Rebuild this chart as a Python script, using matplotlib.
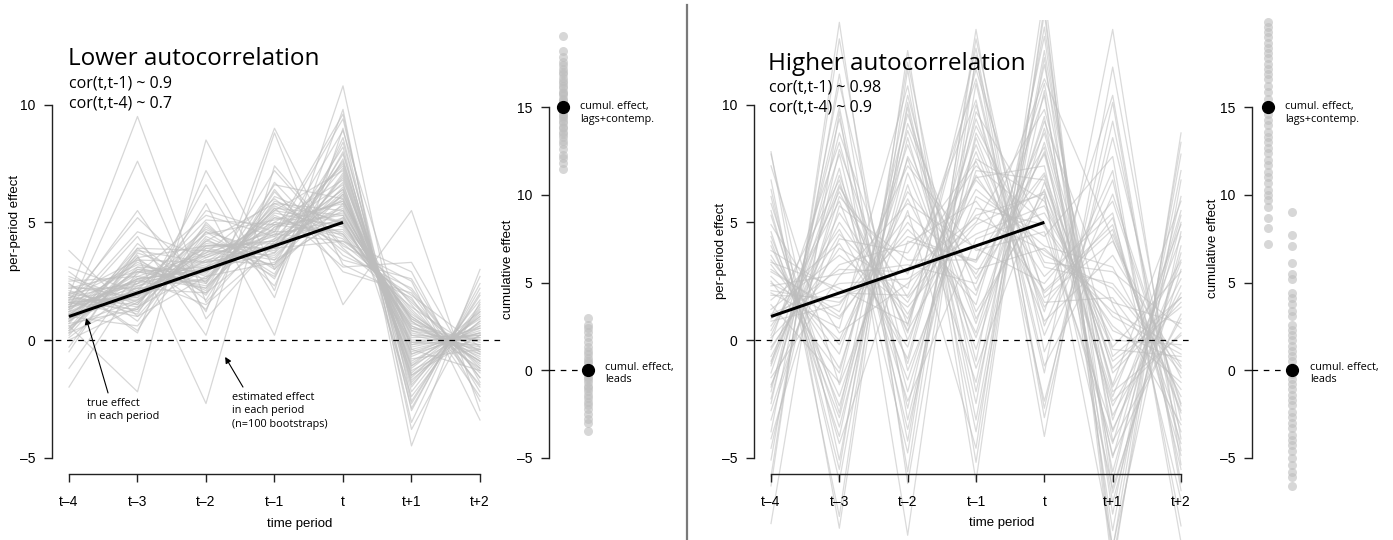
import matplotlib
matplotlib.use("Agg")
import matplotlib.pyplot as plt

# ---------------- data ----------------
periods = [-4, -3, -2, -1, 0, 1, 2]
period_labels = ["t\u20134", "t\u20133", "t\u20132", "t\u20131", "t", "t+1", "t+2"]
true_x = [-4, -3, -2, -1, 0]
true_effect = [1, 2, 3, 4, 5]
ytick_main = [-5, 0, 5, 10]
ytick_cum = [-5, 0, 5, 10, 15]

low_boot = [
    [1.2, 2.1, 3.4, 4.0, 5.5, 0.4, -0.2],
    [0.8, 2.6, 2.9, 4.5, 5.1, 0.9, -0.6],
    [1.6, 1.8, 3.8, 3.6, 6.2, -0.3, 0.3],
    [2.1, 1.2, 4.4, 3.1, 7.0, -1.2, 1.0],
    [0.4, 3.1, 2.2, 5.2, 4.3, 1.6, -1.1],
    [1.9, 9.5, 1.6, 4.8, 5.9, 0.2, 0.1],
    [1.3, 7.6, 0.9, 4.2, 6.4, -0.7, 0.5],
    [3.8, 1.0, 2.7, 3.3, 5.2, 0.8, -0.9],
    [-2.0, 2.6, 3.6, 5.0, 4.6, 1.2, -1.3],
    [0.6, -2.2, 8.5, 3.0, 5.8, -0.1, 0.2],
    [1.5, 5.5, 1.2, 9.0, 3.2, 1.8, -2.4],
    [2.4, 0.3, 7.2, 2.1, 10.8, -2.6, 1.9],
    [1.0, 3.6, -2.7, 7.4, 4.0, 2.5, -3.4],
    [-1.2, 2.9, 2.5, 5.6, 3.1, 3.3, -1.8],
    [1.8, 1.5, 4.9, 2.6, 8.4, -1.9, 1.2],
    [0.9, 2.4, 3.1, 4.3, 5.6, 0.0, 0.0],
    [1.4, 2.0, 3.5, 4.7, 6.6, -0.8, -0.4],
    [2.7, 1.6, 4.1, 3.8, 7.6, -1.5, 0.8],
    [0.2, 3.4, 2.0, 6.1, 4.9, 0.6, -0.7],
    [1.1, 2.8, 5.3, 4.4, 9.4, -3.0, 2.4],
    [1.7, 5.2, 2.4, 7.2, 3.9, 1.4, -0.5],
    [0.7, 1.3, 6.6, 1.8, 9.8, -4.5, 3.0],
    [2.2, 2.2, 2.6, 5.4, 4.8, 1.0, -1.0],
    [1.0, 0.6, 3.9, 3.4, 6.9, -1.1, 0.6],
    [-0.5, 3.9, 1.7, 6.4, 2.9, 2.0, -2.0],
    [1.4, 2.5, 3.2, 4.9, 5.3, 0.3, -0.3],
    [2.9, 0.8, 4.6, 2.8, 8.0, -2.2, 1.5],
    [0.5, 3.0, 2.8, 5.7, 4.4, 1.1, -0.8],
    [1.6, 1.9, 4.0, 4.1, 6.0, -0.5, 0.4],
    [1.2, 4.4, 0.2, 8.8, 1.5, 5.5, -3.0],
    [0.1, 2.3, 3.3, 3.9, 7.3, -1.6, 1.1],
    [1.9, 1.1, 5.8, 0.2, 9.0, -3.5, 2.7],
    [1.3, 3.3, 2.1, 5.9, 5.0, 0.5, -0.4],
    [0.8, 2.7, 3.7, 4.6, 4.7, 1.3, -1.4],
    [2.0, 1.4, 3.0, 3.7, 6.3, -0.9, 0.7],
    [1.5, 2.2, 4.5, 5.1, 5.8, 0.1, 0.2],
    [0.9, 3.5, 1.3, 6.7, 3.6, 2.2, -1.6],
    [1.7, 1.7, 3.4, 3.2, 7.9, -1.8, 1.3],
    [1.1, 2.9, 2.3, 4.8, 5.4, 0.7, -0.1],
    [2.4, 0.4, 5.0, 2.3, 8.6, -2.7, 2.0],
    [-0.3, 3.7, 2.7, 5.3, 4.1, 1.7, -1.2],
    [1.4, 2.4, 3.9, 4.2, 5.7, -0.2, 0.1],
    [0.6, 1.7, 4.2, 3.5, 6.5, -1.0, 0.9],
    [1.8, 3.2, 2.6, 5.5, 5.0, 0.4, -0.6],
    [1.0, 2.0, 3.6, 4.4, 6.1, -0.4, 0.3],
    [2.6, 1.5, 4.8, 3.0, 7.1, -1.4, 1.0],
    [0.3, 4.1, 1.9, 6.3, 3.4, 2.6, -2.2],
    [1.3, 2.6, 3.0, 4.1, 5.2, 0.6, -0.5],
    [1.6, 1.0, 4.3, 2.7, 7.7, -2.0, 1.7],
    [0.8, 3.0, 2.4, 5.8, 4.5, 0.9, -0.9],
    [1.7, 2.3, 2.9, 5.0, 6.8, -0.6, 0.6],
    [0.5, 3.8, 3.3, 3.9, 4.2, 2.9, -2.6],
    [2.3, 1.8, 5.5, 4.6, 7.4, -1.3, 0.2],
    [1.2, 2.6, 1.5, 4.0, 8.9, -0.4, -1.3],
    [3.1, 2.0, 3.7, 6.0, 3.8, 1.9, -0.3],
    [0.0, 1.4, 4.0, 3.9, 6.7, -2.4, 1.4],
    [1.5, 3.1, 2.9, 4.9, 5.9, 0.8, -1.2],
    [2.0, 2.4, 4.7, 3.4, 5.1, -0.2, 0.5],
    [0.9, 1.9, 3.1, 5.5, 7.2, -1.5, 0.2],
    [1.4, 4.6, 3.5, 4.5, 4.2, 2.1, -1.6],
    [2.5, 2.7, 2.2, 6.6, 6.0, -0.1, -0.2],
    [0.3, 1.6, 4.6, 3.7, 8.2, -2.9, 2.2],
    [1.9, 3.4, 3.3, 5.2, 4.9, 1.5, -1.9],
    [1.0, 2.2, 2.0, 4.3, 7.5, -1.7, 0.8],
    [1.6, 1.3, 4.2, 5.8, 5.5, 0.2, -0.4],
    [0.7, 3.9, 3.8, 3.2, 6.2, -0.6, 0.3],
    [2.2, 2.9, 3.1, 4.6, 9.6, -3.8, 1.6],
    [1.1, 2.1, 5.1, 4.9, 4.5, 1.0, -0.9],
    [1.8, 2.5, 2.5, 5.6, 5.3, 0.5, 0.0],
    [0.4, 3.5, 4.0, 4.2, 6.4, -1.1, 1.2],
]

high_boot = [
    [-2.5, 8.8, 0.6, 11.5, 1.8, 4.2, -1.6],
    [5.8, -3.1, 10.4, -0.9, 12.9, -6.5, 3.7],
    [0.4, 5.9, -1.7, 7.2, 6.8, -2.4, 4.9],
    [3.2, -0.6, 8.3, 0.7, 9.3, 1.5, -3.6],
    [-5.8, 12.8, -3.4, 8.6, 1.2, 10.4, -6.1],
    [7.4, -1.9, 5.5, -4.6, 14.8, -9.4, 6.8],
    [1.7, 4.1, -0.3, 9.1, 3.3, 2.9, 0.5],
    [2.9, 1.2, 7.4, 3.8, 4.6, -3.8, 2.3],
    [-1.4, 7.3, -4.8, 12.8, -0.5, 6.2, -2.7],
    [4.6, -4.1, 9.2, 2.1, 8.0, -1.9, 5.9],
    [0.1, 3.2, 4.1, 5.9, 2.1, 4.9, -4.4],
    [3.8, 2.0, 1.9, 6.9, 7.4, -4.9, 1.1],
    [-3.9, 10.9, -1.3, 6.1, 4.4, 7.8, -8.6],
    [6.1, -5.5, 11.8, -2.2, 10.6, -8.1, 7.9],
    [2.3, 2.8, 3.2, 2.4, 8.8, -2.2, 0.2],
    [-0.7, 5.0, 0.9, 8.0, 0.8, 3.6, -1.1],
    [-3.0, 6.1, 2.8, 10.2, -2.6, 8.6, -3.4],
    [4.0, -2.4, 6.6, -1.8, 11.7, -3.4, 4.4],
    [1.0, 6.8, -2.6, 4.3, 5.4, 0.4, -0.9],
    [2.5, -1.4, 8.9, 1.2, 6.1, -6.3, 3.0],
    [-1.9, 4.3, 3.7, 7.6, 1.6, 1.8, -2.1],
    [4.9, 0.3, 2.4, 5.0, 9.8, -0.7, 1.8],
    [-6.2, 13.5, -6.1, 10.9, -1.4, 13.2, -5.3],
    [6.8, -7.5, 12.3, -5.2, 13.9, -8.9, 8.4],
    [0.8, 1.5, 5.3, 3.0, 3.9, 1.2, -0.4],
    [-2.2, 9.4, -2.9, 9.7, 4.8, 0.6, -1.8],
    [3.4, -0.2, 6.0, 0.3, 9.5, -5.6, 5.0],
    [-0.3, 3.9, 2.2, 11.1, -1.1, 4.5, -3.0],
    [5.3, -3.7, 7.8, 2.6, 7.0, -2.8, 2.6],
    [-4.6, 8.1, 0.0, 7.0, 2.7, 5.4, -6.8],
    [2.0, 0.5, 10.8, -3.4, 12.3, -4.3, 0.9],
    [1.3, 3.6, 1.4, 4.9, 6.3, -0.9, 1.4],
    [-1.0, 7.9, -3.8, 8.8, 3.1, 2.4, -1.2],
    [3.0, 1.0, 4.7, 1.9, 10.4, -6.9, 4.0],
    [-5.1, 11.3, -5.6, 13.2, -3.3, 9.3, -4.7],
    [7.9, -5.1, 9.9, -3.9, 12.0, -7.4, 7.2],
    [-0.9, 5.4, 1.1, 6.4, 4.0, 3.1, -2.4],
    [4.4, -2.8, 7.1, 0.1, 8.4, -2.0, 3.4],
    [0.6, 4.7, -0.8, 10.0, 0.2, 6.8, -5.5],
    [2.7, 0.0, 6.3, 2.8, 7.9, -3.2, 2.0],
    [-3.4, 6.5, 1.8, 5.3, 6.2, -8.8, 4.6],
    [5.5, -4.4, 4.2, 3.4, 11.1, 4.3, -3.1],
    [-1.6, 2.7, 5.8, 3.9, 2.4, 5.9, -2.8],
    [1.9, 1.8, 3.0, 7.4, 5.0, -4.4, 5.5],
    [0.2, 6.3, 0.4, 5.6, 4.9, 1.0, -0.6],
    [3.6, -1.2, 7.7, -0.4, 9.0, -1.4, 1.6],
    [-2.7, 9.9, -4.3, 11.9, 0.6, 7.2, -7.9],
    [6.4, -6.0, 10.1, -2.7, 13.3, -6.0, 6.1],
    [1.1, 2.4, 2.6, 4.5, 5.7, 0.0, -0.2],
    [-0.4, 4.5, 1.6, 6.8, 3.6, 2.2, -1.4],
    [2.4, 0.9, 5.0, 1.5, 10.9, -3.9, 3.3],
    [-2.0, 7.0, -1.0, 9.4, 2.0, 4.7, -3.9],
    [4.2, -3.3, 8.6, -1.2, 6.7, -0.3, 2.9],
    [0.9, 3.0, 2.9, 5.2, 3.8, 1.6, 0.7],
    [-4.2, 5.7, 3.4, 3.4, 7.1, -1.2, 1.8],
    [3.3, 2.2, 0.7, 8.3, 1.4, 5.2, -4.9],
    [1.5, -1.8, 9.6, 0.9, 6.4, -2.6, 0.3],
    [-0.1, 8.4, -2.2, 7.7, 5.9, -0.4, -0.7],
    [2.1, 1.6, 4.4, 3.3, 8.2, -5.0, 5.3],
    [-1.1, 6.6, 0.3, 12.4, -2.9, 10.1, -6.4],
    [-7.8, 9.7, -8.3, 12.1, -4.1, 11.6, -4.2],
    [8.0, -8.0, 11.5, -6.0, 14.2, -9.8, 8.8],
]

low_cum_lags = [19.1, 18.2, 17.9, 17.6, 17.4, 17.2, 17.0, 16.9, 16.7, 16.5, 16.4,
                16.2, 16.1, 15.9, 15.8, 15.7, 15.5, 15.4, 15.3, 15.2, 15.0, 14.9,
                14.8, 14.6, 14.5, 14.4, 14.2, 14.1, 13.9, 13.8, 13.6, 13.5, 13.3,
                13.1, 12.9, 12.6, 12.3, 12.1, 11.8, 11.5]
low_cum_leads = [3.0, 2.6, 2.4, 2.2, 1.9, 1.6, 1.3, 1.1, 0.9, 0.7, 0.5, 0.4, 0.2,
                 0.1, -0.1, -0.2, -0.4, -0.5, -0.7, -0.9, -1.0, -1.2, -1.4, -1.6,
                 -1.8, -2.0, -2.2, -2.5, -2.8, -3.0, -3.5]
high_cum_lags = [19.9, 19.6, 19.3, 19.0, 18.7, 18.4, 18.1, 17.8, 17.5, 17.2, 16.9,
                 16.6, 16.2, 15.9, 15.5, 14.6, 14.3, 14.0, 13.6, 13.3, 13.0, 12.7,
                 12.4, 12.0, 11.7, 11.3, 11.0, 10.7, 10.3, 10.0, 9.7, 9.3, 8.7,
                 8.1, 7.2]
high_cum_leads = [9.0, 7.7, 7.1, 6.1, 5.5, 5.2, 4.4, 4.1, 3.8, 3.4, 3.1, 2.6, 2.3,
                  2.0, 1.7, 1.4, 1.1, 0.8, 0.5, 0.2, -0.2, -0.5, -0.8, -1.1, -1.4,
                  -1.7, -2.0, -2.4, -2.7, -3.0, -3.3, -3.7, -4.0, -4.3, -4.6, -5.0,
                  -5.4, -5.8, -6.1, -6.6]
true_cum = [15, 0]

# ---------------- styling ----------------
W, H = 1393, 540
TICKFONT = "Liberation Sans"
TEXTFONT = "Open Sans"
GRAY = "#bdbdbd"
AX_COL = "#222222"

fig = plt.figure(figsize=(W / 100, H / 100), dpi=100)


def fx(x):
    return x / W


def fy(y):
    return 1 - y / H


def main_axes(left_px, right_px, top_px, ylim, xlim, boot, zero_from, zero_to,
              alpha):
    ax = fig.add_axes([fx(left_px), 0, (right_px - left_px) / W, (H - top_px) / H])
    ax.set_xlim(*xlim)
    ax.set_ylim(*ylim)
    ax.patch.set_alpha(0)
    for row in boot:
        ax.plot(periods, row, color=GRAY, alpha=alpha, lw=0.9, zorder=1)
    ax.plot([zero_from, zero_to], [0, 0], color="black", lw=0.9,
            ls=(0, (4.5, 4.5)), zorder=3, clip_on=False)
    ax.plot(true_x, true_effect, color="black", lw=2.2, zorder=4,
            solid_capstyle="butt")
    for s in ("top", "right"):
        ax.spines[s].set_visible(False)
    ax.spines["left"].set_bounds(-5, 10)
    ax.spines["bottom"].set_bounds(-4, 2)
    ax.spines["bottom"].set_position(("data", (340 - 474) / 23.53))
    for s in ("left", "bottom"):
        ax.spines[s].set_color(AX_COL)
        ax.spines[s].set_linewidth(1.0)
    ax.set_yticks(ytick_main)
    ax.set_yticklabels([str(v).replace("-", "\u2013") for v in ytick_main],
                       fontfamily=TICKFONT, fontsize=10)
    ax.set_xticks(periods)
    ax.set_xticklabels(period_labels, fontfamily=TICKFONT, fontsize=10)
    ax.tick_params(axis="y", direction="out", length=6, width=1.0, pad=6,
                   color=AX_COL)
    ax.tick_params(axis="x", direction="out", length=6, width=1.0, pad=9,
                   color=AX_COL)
    return ax


def strip_axes(left_px, right_px, col_px_per_unit, lags, leads):
    ax = fig.add_axes([fx(left_px), 0, (right_px - left_px) / W, 1])
    x0 = 1 - (col_px_per_unit[0]) / col_px_per_unit[1]
    ax.set_xlim(x0, x0 + (right_px - left_px) / col_px_per_unit[1])
    ax.set_ylim((370 - 540) / 17.5, 370 / 17.5)
    ax.patch.set_alpha(0)
    ax.plot([1] * len(lags), lags, "o", color=GRAY, alpha=0.6, ms=6.5,
            mec="none", zorder=2)
    ax.plot([2] * len(leads), leads, "o", color=GRAY, alpha=0.6, ms=6.5,
            mec="none", zorder=2)
    ax.plot([x0, 2], [0, 0], color="black", lw=0.9, ls=(0, (4.5, 4.5)),
            zorder=3)
    ax.plot([1, 2], true_cum, "o", color="black", ms=8.5, zorder=4, ls="none")
    for s in ("top", "right", "bottom"):
        ax.spines[s].set_visible(False)
    ax.spines["left"].set_bounds(-5, 15)
    ax.spines["left"].set_color(AX_COL)
    ax.spines["left"].set_linewidth(1.0)
    ax.set_xticks([])
    ax.set_yticks(ytick_cum)
    ax.set_yticklabels([str(v).replace("-", "\u2013") for v in ytick_cum],
                       fontfamily=TICKFONT, fontsize=10)
    ax.tick_params(axis="y", direction="out", length=6, width=1.0, pad=6,
                   color=AX_COL)
    return ax


# ---- left main panel ----
axL = main_axes(52, 505, 0, ((340 - 540) / 23.53, 340 / 23.53),
                (-4.248, 2.365), low_boot, -4.365, 2.29, 0.6)
axL.annotate("", xy=(-3.75, 0.93), xytext=(-3.43, -2.25),
             arrowprops=dict(arrowstyle="-|>", lw=0.8, color="black",
                             mutation_scale=9, shrinkA=0, shrinkB=0))
axL.annotate("", xy=(-1.72, -0.72), xytext=(-1.46, -2.0),
             arrowprops=dict(arrowstyle="-|>", lw=0.8, color="black",
                             mutation_scale=9, shrinkA=0, shrinkB=0))
axL.text(-3.74, -2.45, "true effect\nin each period", fontfamily=TEXTFONT,
         fontsize=7.8, va="top", ha="left", linespacing=1.3)
axL.text(-1.62, -2.2, "estimated effect\nin each period\n(n=100 bootstraps)",
         fontfamily=TEXTFONT, fontsize=7.8, va="top", ha="left", linespacing=1.3)

# ---- left strip ----
axLS = strip_axes(549, 680, (14, 25), low_cum_lags, low_cum_leads)
axLS.text(1.68, 14.7, "cumul. effect,\nlags+contemp.", fontfamily=TEXTFONT,
          fontsize=7.8, va="center", ha="left", linespacing=1.2)
axLS.text(2.68, -0.2, "cumul. effect,\nleads", fontfamily=TEXTFONT,
          fontsize=7.8, va="center", ha="left", linespacing=1.2)

# ---- right main panel ----
axR = main_axes(754, 1205, 20, ((340 - 540) / 23.53, (340 - 20) / 23.53),
                (-4.249, 2.351), high_boot, -4.234, 2.16, 0.55)

# ---- right strip ----
axRS = strip_axes(1252, 1393, (16, 24), high_cum_lags, high_cum_leads)
axRS.text(1.71, 14.7, "cumul. effect,\nlags+contemp.", fontfamily=TEXTFONT,
          fontsize=7.8, va="center", ha="left", linespacing=1.2)
axRS.text(2.75, -0.2, "cumul. effect,\nleads", fontfamily=TEXTFONT,
          fontsize=7.8, va="center", ha="left", linespacing=1.2)

# ---- titles and axis labels ----
fig.text(fx(68), fy(65), "Lower autocorrelation", fontfamily=TEXTFONT,
         fontsize=17.5, ha="left", va="baseline")
fig.text(fx(69), fy(83), "cor(t,t-1) ~ 0.9", fontfamily=TEXTFONT,
         fontsize=11.5, ha="left", va="center")
fig.text(fx(69), fy(103), "cor(t,t-4) ~ 0.7", fontfamily=TEXTFONT,
         fontsize=11.5, ha="left", va="center")
fig.text(fx(768), fy(70), "Higher autocorrelation", fontfamily=TEXTFONT,
         fontsize=17.5, ha="left", va="baseline")
fig.text(fx(769), fy(88), "cor(t,t-1) ~ 0.98", fontfamily=TEXTFONT,
         fontsize=11.5, ha="left", va="center")
fig.text(fx(769), fy(108), "cor(t,t-4) ~ 0.9", fontfamily=TEXTFONT,
         fontsize=11.5, ha="left", va="center")

fig.text(fx(15), fy(223), "per-period effect", fontfamily=TICKFONT, fontsize=9.5,
         rotation=90, ha="center", va="center")
fig.text(fx(721), fy(251), "per-period effect", fontfamily=TICKFONT, fontsize=9.5,
         rotation=90, ha="center", va="center")
fig.text(fx(300), fy(524), "time period", fontfamily=TICKFONT, fontsize=9.5,
         ha="center", va="center")
fig.text(fx(1002), fy(523), "time period", fontfamily=TICKFONT, fontsize=9.5,
         ha="center", va="center")
fig.text(fx(508), fy(269), "cumulative effect", fontfamily=TICKFONT, fontsize=9.5,
         rotation=90, ha="center", va="center")
fig.text(fx(1213), fy(248), "cumulative effect", fontfamily=TICKFONT, fontsize=9.5,
         rotation=90, ha="center", va="center")

# divider
fig.add_artist(plt.Line2D([fx(687), fx(687)], [fy(5), fy(540)], color="#7a7a7a",
                          lw=1.6, transform=fig.transFigure))

fig.savefig("out.png", dpi=100)
